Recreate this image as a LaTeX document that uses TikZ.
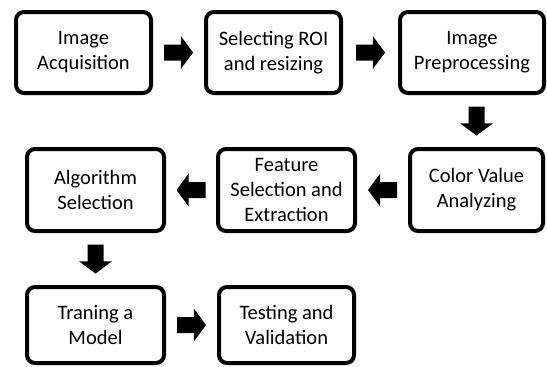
\documentclass[tikz,border=0pt]{standalone}
\usepackage{fontspec}
\setmainfont{Carlito}
\usetikzlibrary{calc}
\tikzset{
  stepbox/.style={draw=black, line width=4pt, rounded corners=8pt, fill=white,
    align=center, inner sep=0pt, font=\fontsize{20.5pt}{25pt}\selectfont,
    minimum height=81pt},
}
\newcommand\fatarrow[2]{%
  \coordinate (fa-m) at ($(#1)!0.5!(#2)$);
  \coordinate (fa-s) at ($(fa-m)!14.5pt!(#1)$);
  \coordinate (fa-e) at ($(fa-m)!14.5pt!(#2)$);
  \coordinate (fa-k) at ($(fa-s)!0.58!(fa-e)$);
  \fill[black] ($(fa-s)!8pt!90:(fa-e)$) -- ($(fa-k)!8pt!90:(fa-e)$)
    -- ($(fa-k)!16.5pt!90:(fa-e)$) -- (fa-e) -- ($(fa-k)!16.5pt!-90:(fa-e)$)
    -- ($(fa-k)!8pt!-90:(fa-e)$) -- ($(fa-s)!8pt!-90:(fa-e)$) -- cycle;}
\begin{document}
\begin{tikzpicture}[x=1pt, y=-1pt]
\useasboundingbox (0,0) rectangle (547,367);
% row 1
\node[stepbox, minimum width=135pt] (b1) at (83.5,52.5) {Image\\Acquisition};
\node[stepbox, minimum width=135pt] (b2) at (273.5,52.5) {Selecting ROI\\and resizing};
\node[stepbox, minimum width=144pt] (b3) at (472,52.5) {Image\\Preprocessing};
% row 2
\node[stepbox, minimum width=137pt, minimum height=82pt] (alg) at (95.5,190) {Algorithm\\Selection};
\node[stepbox, minimum width=137pt, minimum height=82pt] (feat) at (286.5,190) {Feature\\Selection and\\Extraction};
\node[stepbox, minimum width=133pt, minimum height=82pt] (col) at (476.5,190) {Color Value\\Analyzing};
% row 3
\node[stepbox, minimum width=137pt, minimum height=76pt] (tr) at (95.5,325) {Traning a\\Model};
\node[stepbox, minimum width=135pt, minimum height=76pt] (test) at (286.5,325) {Testing and\\Validation};
% connectors
\fatarrow{b1.east}{b2.west}
\fatarrow{b2.east}{b3.west}
\coordinate (d1s) at (col.north |- b3.south);
\fatarrow{d1s}{col.north}
\fatarrow{col.west}{feat.east}
\fatarrow{feat.west}{alg.east}
\fatarrow{alg.south}{tr.north}
\fatarrow{tr.east}{test.west}
\end{tikzpicture}
\end{document}
